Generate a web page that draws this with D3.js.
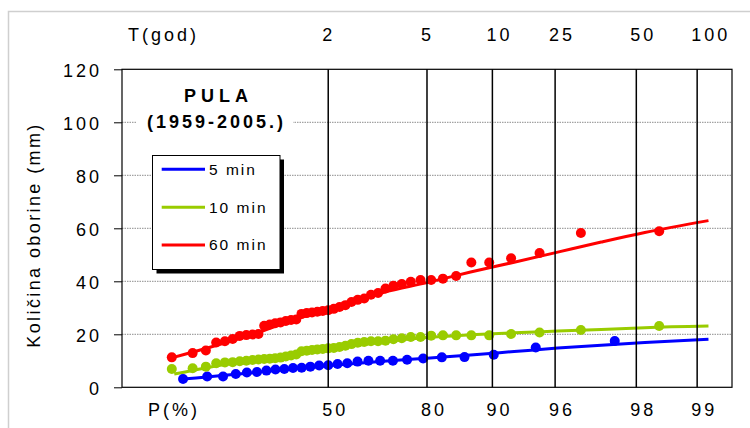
<!DOCTYPE html>
<html>
<head>
<meta charset="utf-8">
<script src="https://cdn.jsdelivr.net/npm/d3@7"></script>
<style>
  html, body { margin: 0; padding: 0; background: #fff; }
  svg { display: block; font-family: Arial, "Liberation Sans", sans-serif; }
</style>
</head>
<body>
<svg id="chart" width="750" height="428"></svg>
<script>
// ---------------- DATA ----------------
const seriesNames = ["5 min", "10 min", "60 min"];
// annual maxima, sorted ascending (mm)
const values5 = [3.1, 4.1, 4.1, 5.0, 5.6, 5.8, 6.3, 6.7, 6.9, 7.3, 7.4, 7.8, 8.2, 8.3, 8.8,
  9.1, 9.7, 10.0, 10.0, 10.0, 10.4, 10.9, 11.3, 11.4, 12.3, 15.0, 17.5];
const values10 = [6.9, 7.2, 7.8, 9.1, 9.4, 9.5, 9.8, 10.0, 10.3, 10.5, 10.7, 10.8, 11.0, 11.2, 11.6,
  12.0, 12.4, 13.6, 13.8, 14.1, 14.3, 14.5, 14.7, 14.8, 15.2, 15.7, 16.3, 16.8, 17.1, 17.4,
  17.4, 17.6, 18.1, 18.5, 19.0, 19.0, 19.5, 19.6, 19.6, 19.6, 19.6, 20.1, 20.7, 21.6, 23.1];
const values60 = [11.3, 12.9, 13.9, 16.9, 17.4, 18.2, 19.4, 19.7, 19.9, 20.1, 23.2, 23.7, 24.2, 24.5, 25.0,
  25.4, 25.6, 27.7, 28.0, 28.2, 28.5, 28.8, 29.1, 29.6, 30.3, 31.0, 32.2, 33.0, 33.5, 34.9,
  35.6, 37.3, 38.3, 39.0, 39.8, 40.5, 40.5, 41.0, 42.0, 47.1, 47.1, 48.7, 50.7, 58.2, 58.9];

// fitted curves: Gumbel reduced variate -> precipitation (mm)
const fitU5  = [-1.30, -1.0, -0.5, 0, 0.5, 1.0, 1.5, 2.0, 2.5, 3.0, 3.5, 4.0, 4.73];
const fit5   = [3.1, 4.0, 5.5, 7.1, 8.5, 9.8, 11.0, 12.2, 13.5, 14.8, 15.9, 16.9, 18.1];
const fitU10 = [-1.40, -1.0, -0.5, 0, 0.5, 1.0, 1.5, 2.0, 2.5, 3.0, 3.5, 4.0, 4.73];
const fit10  = [5.0, 7.6, 10.3, 12.4, 14.9, 17.2, 18.8, 19.8, 20.6, 21.2, 21.8, 22.5, 23.1];
const fitU60 = [-1.43, -1.0, -0.5, 0, 0.5, 1.0, 1.5, 2.0, 2.5, 3.0, 3.5, 4.0, 4.73];
const fit60  = [11.1, 15.0, 20.0, 25.8, 30.5, 35.8, 39.5, 43.5, 47.2, 51.0, 54.8, 58.4, 62.9];

// axes
const yTicks = [0, 20, 40, 60, 80, 100, 120];
const gridT = [2, 5, 10, 20, 50, 100];            // return periods of the vertical grid lines
const tLabels = ["2", "5", "10", "25", "50", "100"];
const pLabels = ["50", "80", "90", "96", "98", "99"];
const yTitle = "Količina oborine (mm)";
const titleLines = ["PULA", "(1959-2005.)"];

// ---------------- STYLE / LAYOUT ----------------
const colors = ["#0000ff", "#99cc00", "#ff0000"];
const plot = { left: 122, right: 732, top: 69.3, bottom: 387.3 };
const FONT = 18, LS = 3;

const svg = d3.select("#chart");
const x = d3.scaleLinear().domain([-2, 5]).range([plot.left, plot.right]);
const y = d3.scaleLinear().domain([0, 120]).range([plot.bottom, plot.top]);
const gumbel = p => -Math.log(-Math.log(p));
const plotPos = (k, n) => (k + 1 - 0.3) / (n + 0.4);

// outer chart border
svg.append("rect").attr("x", 8.5).attr("y", 11.5).attr("width", 760).attr("height", 440)
  .attr("fill", "none").attr("stroke", "#cfcfcf").attr("stroke-width", 1.5);

// horizontal dotted grid lines
svg.append("g").selectAll("line").data(yTicks.filter(t => t > 0 && t < 120)).join("line")
  .attr("x1", plot.left).attr("x2", plot.right)
  .attr("y1", d => y(d)).attr("y2", d => y(d))
  .attr("stroke", "#8c8c8c").attr("stroke-width", 1).attr("stroke-dasharray", "1.5,1");

// y axis ticks and labels via d3 axis
const yAxis = d3.axisLeft(y).tickValues(yTicks).tickSize(8).tickPadding(15);
const gy = svg.append("g").attr("transform", `translate(${plot.left},0)`).call(yAxis);
gy.select(".domain").remove();
gy.selectAll(".tick line").attr("stroke", "#000").attr("stroke-width", 1);
gy.selectAll(".tick text").attr("font-size", FONT).attr("fill", "#000")
  .attr("font-family", "Arial, 'Liberation Sans', sans-serif")
  .style("letter-spacing", LS + "px").attr("dx", LS).attr("dy", "0.42em");

// frame
svg.append("rect").attr("x", plot.left).attr("y", plot.top)
  .attr("width", plot.right - plot.left).attr("height", plot.bottom - plot.top)
  .attr("fill", "none").attr("stroke", "#000").attr("stroke-width", 1.2);

// fitted lines
const fits = [[fitU5, fit5], [fitU10, fit10], [fitU60, fit60]];
const line = d3.line().x(d => x(d[0])).y(d => y(d[1])).curve(d3.curveMonotoneX);
fits.forEach(([us, vs], i) => {
  svg.append("path").datum(us.map((u, j) => [u, vs[j]]))
    .attr("d", line).attr("fill", "none")
    .attr("stroke", colors[i]).attr("stroke-width", 3);
});

// observed points
[values5, values10, values60].forEach((vals, i) => {
  const n = vals.length;
  svg.append("g").selectAll("circle").data(vals).join("circle")
    .attr("cx", (d, k) => x(gumbel(plotPos(k, n))))
    .attr("cy", d => y(d))
    .attr("r", 5).attr("fill", colors[i]);
});

// vertical grid lines (Gumbel probability paper)
const gridU = gridT.map(T => gumbel(1 - 1 / T));
svg.append("g").selectAll("line").data(gridU).join("line")
  .attr("x1", d => x(d)).attr("x2", d => x(d))
  .attr("y1", plot.top).attr("y2", plot.bottom)
  .attr("stroke", "#000").attr("stroke-width", 1.5);

// top labels T(god)
const txt = (sel) => sel.attr("font-size", FONT).attr("fill", "#000").style("letter-spacing", LS + "px");
svg.append("text").attr("x", 128).attr("y", 40.5).text("T(god)").call(txt);
svg.append("g").selectAll("text").data(tLabels).join("text")
  .attr("x", (d, i) => x(gridU[i]) - 6).attr("y", 40.5).text(d => d).call(txt);

// bottom labels P(%)
svg.append("text").attr("x", 148).attr("y", 415.5).text("P(%)").call(txt);
svg.append("g").selectAll("text").data(pLabels).join("text")
  .attr("x", (d, i) => x(gridU[i]) - 6).attr("y", 415.5).text(d => d).call(txt);

// y title
svg.append("text").attr("transform", "translate(40,235) rotate(-90)")
  .attr("text-anchor", "middle").text(yTitle).call(txt).style("letter-spacing", "2.4px");

// title block
svg.append("rect").attr("x", 137).attr("y", 80).attr("width", 156).attr("height", 58).attr("fill", "#fff");
svg.append("text").attr("x", 216 + 2.5).attr("y", 102.3).attr("text-anchor", "middle")
  .attr("font-weight", "bold").attr("font-size", FONT).style("letter-spacing", "5px").text(titleLines[0]);
svg.append("text").attr("x", 215 + 1.5).attr("y", 128.3).attr("text-anchor", "middle")
  .attr("font-weight", "bold").attr("font-size", FONT).style("letter-spacing", "3px").text(titleLines[1]);

// legend
const lg = { x: 152.5, y: 155.5, w: 127.5, h: 114 };
svg.append("rect").attr("x", lg.x + 4).attr("y", lg.y + 4).attr("width", lg.w).attr("height", lg.h).attr("fill", "#000");
svg.append("rect").attr("x", lg.x).attr("y", lg.y).attr("width", lg.w).attr("height", lg.h)
  .attr("fill", "#fff").attr("stroke", "#000").attr("stroke-width", 1);
const legendRows = [169.3, 207.3, 245];
seriesNames.forEach((name, i) => {
  svg.append("line").attr("x1", 161.7).attr("x2", 205).attr("y1", legendRows[i]).attr("y2", legendRows[i])
    .attr("stroke", colors[i]).attr("stroke-width", 3);
  svg.append("text").attr("x", 209).attr("y", legendRows[i] + 5.3).attr("font-size", 15.5)
    .style("letter-spacing", "2px").attr("fill", "#000").text(name);
});
</script>
</body>
</html>
